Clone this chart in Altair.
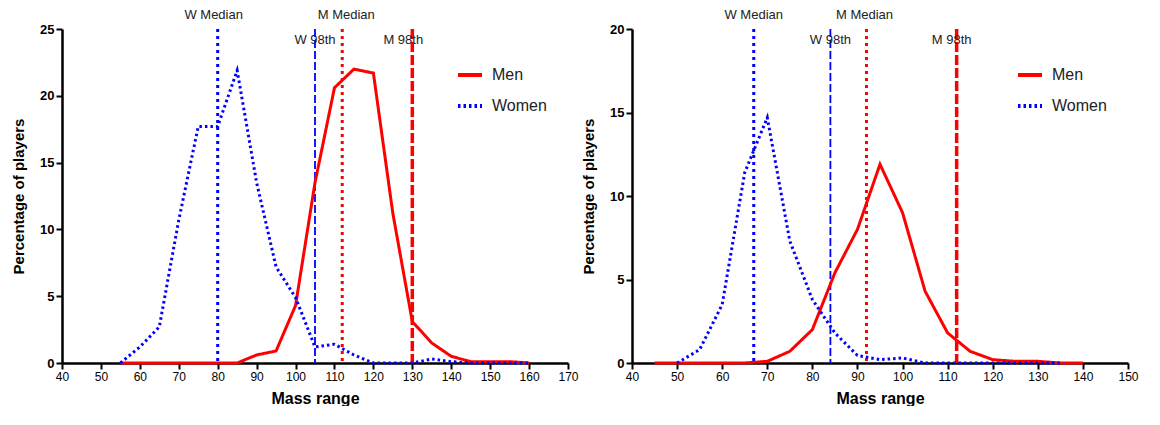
import altair as alt
import pandas as pd

FONT = "Liberation Sans"

# ---------------- data ----------------
series_names = ["Men", "Women"]
ref_names = ["W Median", "W 98th", "M Median", "M 98th"]

# Left panel
left_men_mass = [55, 60, 65, 70, 75, 80, 85, 90, 95, 100, 105, 110, 115, 120, 125, 130, 135, 140, 145, 150, 155, 160]
left_men_pct = [0, 0, 0, 0, 0, 0, 0, 0.6, 0.9, 4.3, 13.5, 20.6, 22.0, 21.7, 11.2, 3.1, 1.5, 0.5, 0.1, 0.1, 0.1, 0]
left_women_mass = [55, 60, 65, 70, 75, 80, 85, 90, 95, 100, 105, 110, 115, 120, 125, 130, 135, 140, 145, 150, 155, 160]
left_women_pct = [0, 1.2, 2.7, 10.7, 17.7, 17.7, 21.9, 13.5, 7.2, 4.9, 1.2, 1.4, 0.6, 0, 0, 0, 0.3, 0.1, 0, 0, 0, 0]
left_ref_values = [80, 105, 112, 130]

# Right panel
right_men_mass = [45, 50, 55, 60, 65, 70, 75, 80, 85, 90, 95, 100, 105, 110, 115, 120, 125, 130, 135, 140]
right_men_pct = [0, 0, 0, 0, 0, 0.1, 0.7, 2.0, 5.4, 8.0, 11.9, 9.0, 4.3, 1.8, 0.7, 0.2, 0.1, 0.1, 0, 0]
right_women_mass = [50, 55, 60, 65, 70, 75, 80, 85, 90, 95, 100, 105, 110, 115, 120, 125, 130, 135]
right_women_pct = [0, 0.8, 3.5, 11.4, 14.7, 7.3, 3.8, 1.8, 0.45, 0.2, 0.3, 0, 0, 0, 0, 0, 0, 0]
right_ref_values = [67, 84, 92, 112]

# ---------------- styles ----------------
ref_styles = {
    "W Median": dict(color="#0000ff", strokeWidth=3, strokeDash=[3, 4]),
    "W 98th": dict(color="#0000ff", strokeWidth=1.8, strokeDash=[8, 3]),
    "M Median": dict(color="#ff0000", strokeWidth=3, strokeDash=[3, 4]),
    "M 98th": dict(color="#ff0000", strokeWidth=3.5, strokeDash=[10, 3]),
}


def panel(men_mass, men_pct, women_mass, women_pct, ref_values, xmax, ymax,
          width, height, top_y, low_y, label_dx):
    df = pd.concat([
        pd.DataFrame({"mass": men_mass, "pct": men_pct, "sex": "Men"}),
        pd.DataFrame({"mass": women_mass, "pct": women_pct, "sex": "Women"}),
    ])
    x_enc = alt.X("mass:Q", scale=alt.Scale(domain=[40, xmax], nice=False, zero=False),
                  axis=alt.Axis(values=list(range(40, xmax + 1, 10)), title="Mass range",
                                labelOverlap=False, labelFlush=False))
    y_enc = alt.Y("pct:Q", scale=alt.Scale(domain=[0, ymax], nice=False),
                  axis=alt.Axis(values=list(range(0, ymax + 1, 5)), title="Percentage of players",
                                labelOverlap=False))
    legend = alt.Legend(
        title=None, orient="none", legendX=width - 112, legendY=32,
        symbolType="stroke", symbolSize=576, symbolStrokeWidth=4,
        labelFontSize=16, labelFont=FONT, labelColor="#222222",
        labelOffset=8, rowPadding=9, padding=0,
    )
    lines = alt.Chart(df).mark_line(strokeWidth=3).encode(
        x=x_enc,
        y=y_enc,
        color=alt.Color("sex:N", scale=alt.Scale(domain=series_names, range=["#ff0000", "#0000ff"]),
                        legend=legend),
        strokeDash=alt.StrokeDash("sex:N", scale=alt.Scale(domain=series_names, range=[[1, 0], [2.5, 3]]),
                                  legend=legend),
    )
    layers = [lines]
    for name, val, dx in zip(ref_names, ref_values, label_dx):
        rdf = pd.DataFrame({"mass": [val], "label": [name]})
        st = ref_styles[name]
        layers.append(alt.Chart(rdf).mark_rule(**st).encode(x=x_enc))
        ypos = top_y if "Median" in name else low_y
        layers.append(
            alt.Chart(rdf).mark_text(fontSize=13, font=FONT, color="#222222", align="center",
                                     baseline="middle", dx=dx).encode(
                x=x_enc, y=alt.value(ypos), text="label:N")
        )
    # draw the data lines on top of the reference lines
    layers = layers[1:] + layers[:1]
    return alt.layer(*layers).properties(width=width, height=height)


left = panel(left_men_mass, left_men_pct, left_women_mass, left_women_pct, left_ref_values,
             170, 25, 506, 334, -14, 11, [-4, 0, 4, -9])
right = panel(right_men_mass, right_men_pct, right_women_mass, right_women_pct, right_ref_values,
              150, 20, 496, 334, -14, 11, [0, 0, -2, -5])

chart = (
    alt.hconcat(left, right, spacing=2)
    .resolve_scale(color="independent", strokeDash="independent")
    .properties(padding={"left": 3, "top": 1, "right": 0, "bottom": 0})
    .configure_view(stroke=None)
    .configure_axis(
        grid=False, domainColor="black", domainWidth=2.5, tickColor="black", tickWidth=2,
        tickSize=6, labelColor="black", titleColor="black", labelFont=FONT, titleFont=FONT,
        titleFontWeight="bold", labelPadding=2,
    )
    .configure_axisX(labelFontSize=12, titleFontSize=16, titlePadding=8)
    .configure_axisY(labelFontSize=13, labelFontWeight="bold", titleFontSize=15, titlePadding=13)
)

chart.save("out.html", embed_options={"renderer": "svg", "actions": False})
